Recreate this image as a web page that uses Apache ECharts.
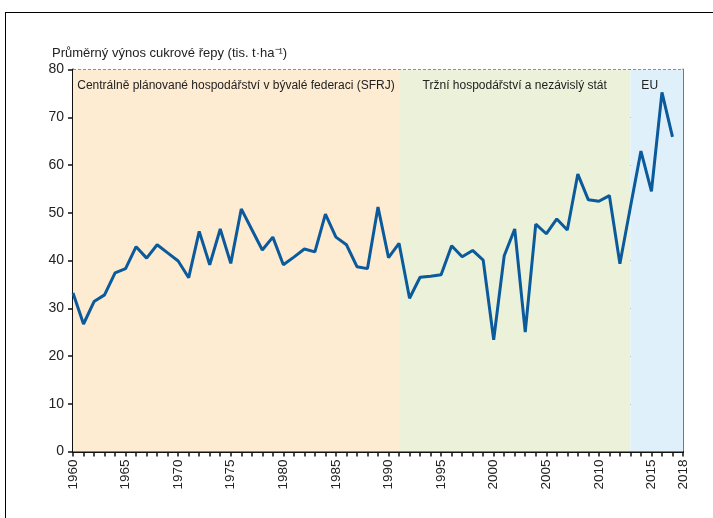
<!DOCTYPE html>
<html>
<head>
<meta charset="utf-8">
<script src="https://cdn.jsdelivr.net/npm/echarts@6/dist/echarts.min.js"></script>
<style>
  html, body { margin: 0; padding: 0; background: #fff; }
  #main { width: 713px; height: 518px; }
</style>
</head>
<body>
<div id="main"></div>
<script>
// roky a výnosy
var years = [];
for (var y = 1960; y <= 2017; y++) years.push(y);

var yields = [
    33.2, 26.7, 31.4, 32.8, 37.4, 38.3, 42.9, 40.5, 43.3, 41.6,
    39.9, 36.4, 46.1, 39.1, 46.6, 39.4, 50.8, 46.5, 42.2, 44.9,
    39.1, 40.7, 42.4, 41.8, 49.7, 44.9, 43.3, 38.7, 38.3, 51.2,
    40.6, 43.6, 32.1, 36.5, 36.7, 37.0, 43.1, 40.8, 42.1, 40.1,
    23.4, 41.0, 46.6, 25.0, 47.6, 45.6, 48.7, 46.4, 58.1, 52.7,
    52.4, 53.6, 39.3, 51.2, 62.9, 54.5, 75.2, 65.9
];

// období (pozadí)
var periods = [
    { name: 'Centrálně plánované hospodářství v bývalé federaci (SFRJ)', from: 1960, to: 1991, color: '#fdebd2' },
    { name: 'Tržní hospodářství a nezávislý stát', from: 1991, to: 2013, color: '#ecf2da' },
    { name: 'EU', from: 2013, to: 2018, color: '#dff0fa' }
];

var labelYears = [1960, 1965, 1970, 1975, 1980, 1985, 1990, 1995, 2000, 2005, 2010, 2015, 2018];

var font = '"Liberation Sans", Arial, sans-serif';

var myChart = echarts.init(document.getElementById('main'));

var seriesData = years.map(function (yr, i) { return [yr, yields[i]]; });

var areas = periods.map(function (p) {
    return [
        { xAxis: p.from, itemStyle: { color: p.color }, name: p.name,
          label: { offset: p.name === 'EU' ? [-7, 0] : [0, 0] } },
        { xAxis: p.to }
    ];
});

option = {
    animation: false,
    textStyle: { fontFamily: font },
    title: {
        text: 'Průměrný výnos cukrové řepy (tis. t·ha⁻¹)',
        left: 47,
        top: 42,
        textStyle: { fontFamily: font, fontSize: 13, fontWeight: 'normal', color: '#222' }
    },
    graphic: [
        { type: 'line', shape: { x1: 5.5, y1: 12, x2: 5.5, y2: 518 }, style: { stroke: '#000', lineWidth: 1 } },
        { type: 'line', shape: { x1: 5, y1: 12.5, x2: 713, y2: 12.5 }, style: { stroke: '#000', lineWidth: 1 } }
    ],
    grid: { left: 73, right: 30, top: 69.5, bottom: 66.5 },
    xAxis: {
        type: 'value',
        min: 1960,
        max: 2018,
        interval: 1,
        axisLine: { show: true, lineStyle: { color: '#111', width: 2 } },
        axisTick: { show: true, length: 5, lineStyle: { color: '#111', width: 1.5 } },
        splitLine: { show: false },
        axisLabel: {
            rotate: 90,
            margin: 8,
            fontSize: 13.5,
            color: '#222',
            fontFamily: font,
            formatter: function (v) {
                return labelYears.indexOf(v) >= 0 ? String(v) : '';
            }
        }
    },
    yAxis: [{
        type: 'value',
        min: 0,
        max: 80,
        interval: 10,
        axisLine: { show: true, lineStyle: { color: '#111', width: 2 } },
        axisTick: { show: true, length: 5, lineStyle: { color: '#111', width: 1.5 } },
        axisLabel: { fontSize: 14, color: '#222', margin: 9, fontFamily: font },
        splitLine: { show: true, lineStyle: { color: '#333', type: [3, 2], width: 1 } }
    }, {
        type: 'value',
        min: 0,
        max: 80,
        position: 'right',
        axisLine: { show: true, lineStyle: { color: '#777', width: 2 } },
        axisTick: { show: false },
        axisLabel: { show: false },
        splitLine: { show: false }
    }],
    series: [{
        type: 'line',
        data: seriesData,
        showSymbol: false,
        symbol: 'none',
        lineStyle: { color: '#0a5a9c', width: 3 },
        z: 5,
        markArea: {
            silent: true,
            label: {
                show: true,
                position: 'insideTop',
                distance: 10,
                fontSize: 12,
                color: '#222',
                fontFamily: font
            },
            data: areas
        }
    }]
};

myChart.setOption(option);
</script>
</body>
</html>
